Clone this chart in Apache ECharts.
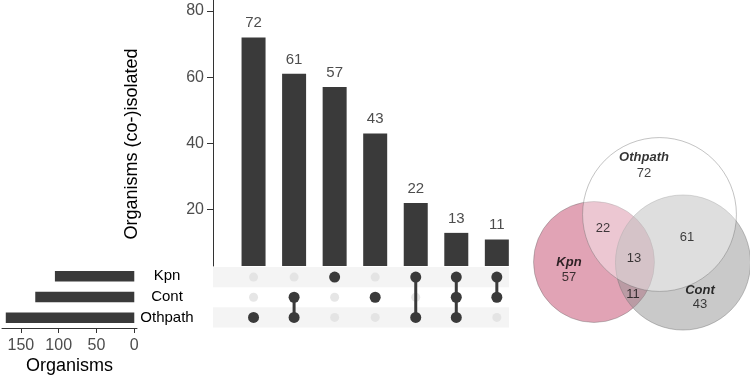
<!DOCTYPE html>
<html>
<head>
<meta charset="utf-8">
<script src="https://cdn.jsdelivr.net/npm/echarts@6/dist/echarts.min.js"></script>
<style>
  html, body { margin: 0; padding: 0; background: #fff; }
  #chart { width: 750px; height: 378px; }
</style>
</head>
<body>
<div id="chart"></div>
<script>
// sets and their sizes (left bars)
const setNames = ['Kpn', 'Cont', 'Othpath'];
const setSizes = [105, 131, 170];

// intersections, in the order of the top bars
const intersectionNames = ['Othpath', 'Cont & Othpath', 'Kpn', 'Cont', 'Kpn & Othpath', 'Kpn & Cont & Othpath', 'Kpn & Cont'];
const intersectionCounts = [72, 61, 57, 43, 22, 13, 11];
// which sets (index into setNames) belong to each intersection
const intersectionMembers = [[2], [1, 2], [0], [1], [0, 2], [0, 1, 2], [0, 1]];

const countTicks = [20, 40, 60, 80];
const sizeTicks = [0, 50, 100, 150];

// venn layout (circle centres per set, label spots per set / intersection)
const vennCenters = [[74, 132], [163, 132.5], [139.5, 84.5]];
const vennNamePos = [[49, 132], [180, 160], [124, 27]];
const vennCountPos = [[124, 43], [167, 107], [49, 147], [180, 174], [83, 98], [114, 128], [113, 164]];

const dark = '#3a3a3a';
const axisGrey = '#4d4d4d';

// matrix dots
const activeDots = [];
const inactiveDots = [];
intersectionMembers.forEach((m, i) => {
  setNames.forEach((s, r) => {
    if (m.includes(r)) activeDots.push([i, r]);
    else inactiveDots.push([i, r]);
  });
});

// connecting lines
const connectorSeries = intersectionMembers
  .map((m, i) => ({ m, i }))
  .filter(d => d.m.length > 1)
  .map(d => ({
    type: 'line',
    xAxisIndex: 1,
    yAxisIndex: 1,
    data: [[d.i, Math.min(...d.m)], [d.i, Math.max(...d.m)]],
    symbol: 'none',
    lineStyle: { color: dark, width: 3 },
    z: 3,
    silent: true
  }));

const vennColors = ['rgba(196,72,108,0.5)', 'rgba(147,147,147,0.5)', 'rgba(255,255,255,0.4)'];

const option = {
  animation: false,
  textStyle: { fontFamily: 'Liberation Sans, Arial, sans-serif' },
  grid: [
    { left: 213, top: 0, width: 296, height: 266 },   // intersection bars
    { left: 213, top: 267, width: 296, height: 60.5 }, // matrix
    { left: 2, top: 266, width: 135, height: 62 },     // set sizes
    { left: 520, top: 130, width: 230, height: 248 }   // venn
  ],
  xAxis: [
    { gridIndex: 0, type: 'value', min: -1, max: 6.3, show: false },
    { gridIndex: 1, type: 'value', min: -1, max: 6.3, show: false },
    {
      gridIndex: 2, type: 'value', min: -3.6, max: 175, inverse: true,
      splitLine: { show: false },
      axisLine: { show: true, onZero: false, lineStyle: { color: '#333', width: 1 } },
      axisTick: { show: true, length: 5, customValues: sizeTicks, lineStyle: { color: '#333' } },
      axisLabel: { customValues: sizeTicks, color: axisGrey, fontSize: 16, margin: 10 },
      name: 'Organisms', nameLocation: 'middle', nameGap: 29,
      nameTextStyle: { color: '#000', fontSize: 18 }
    },
    { gridIndex: 3, type: 'value', min: 0, max: 230, show: false }
  ],
  yAxis: [
    {
      gridIndex: 0, type: 'value', min: 3, max: 83.3,
      splitLine: { show: false },
      axisLine: { show: true, onZero: false, lineStyle: { color: '#333', width: 1 } },
      axisTick: { show: true, length: 6, customValues: countTicks, lineStyle: { color: '#333' } },
      axisLabel: { customValues: countTicks, color: axisGrey, fontSize: 16, margin: 9 },
      name: 'Organisms (co-)isolated', nameLocation: 'middle', nameGap: 72,
      nameTextStyle: { color: '#000', fontSize: 18, padding: [0, 22, 0, 0] }
    },
    { gridIndex: 1, type: 'value', min: -0.5, max: 2.5, inverse: true, show: false },
    {
      gridIndex: 2, type: 'category', data: setNames, inverse: true, position: 'right',
      axisLine: { show: false }, axisTick: { show: false },
      axisLabel: { color: '#000', fontSize: 15, align: 'center', margin: 30 }
    },
    { gridIndex: 3, type: 'value', min: 0, max: 248, inverse: true, show: false }
  ],
  series: [
    {
      type: 'bar',
      xAxisIndex: 0, yAxisIndex: 0,
      data: intersectionCounts.map((v, i) => [i, v]),
      barWidth: 24,
      itemStyle: { color: dark },
      label: {
        show: true, position: 'top', distance: 7,
        color: axisGrey, fontSize: 15,
        formatter: p => p.value[1]
      }
    },
    {
      // row stripes
      type: 'custom',
      xAxisIndex: 1, yAxisIndex: 1,
      data: [0, 2],
      silent: true,
      z: 1,
      renderItem: (params, api) => {
        const r = api.value(0);
        const p0 = api.coord([-1, r - 0.5]);
        const p1 = api.coord([6.3, r + 0.5]);
        return {
          type: 'rect',
          shape: { x: p0[0], y: p0[1], width: p1[0] - p0[0], height: p1[1] - p0[1] },
          style: { fill: '#f4f4f4' }
        };
      }
    },
    {
      type: 'scatter',
      xAxisIndex: 1, yAxisIndex: 1,
      data: inactiveDots,
      symbolSize: 9,
      itemStyle: { color: '#e0e0e0' },
      z: 2,
      silent: true
    },
    ...connectorSeries,
    {
      type: 'scatter',
      xAxisIndex: 1, yAxisIndex: 1,
      data: activeDots,
      symbolSize: 11,
      itemStyle: { color: dark, opacity: 1 },
      z: 4,
      silent: true
    },
    {
      type: 'bar',
      xAxisIndex: 2, yAxisIndex: 2,
      data: setSizes,
      barWidth: 10.5,
      itemStyle: { color: dark }
    },
    {
      // venn circles, area ~ set size
      type: 'scatter',
      xAxisIndex: 3, yAxisIndex: 3,
      data: vennCenters.map((c, i) => ({
        value: c,
        symbolSize: 2 * 5.9 * Math.sqrt(setSizes[i]),
        itemStyle: { color: vennColors[i], opacity: 1, borderColor: 'rgba(110,110,110,0.6)', borderWidth: 0.7 }
      })),
      silent: true
    },
    {
      type: 'scatter',
      xAxisIndex: 3, yAxisIndex: 3,
      data: vennNamePos.map((p, i) => [p[0], p[1], setNames[i]]),
      symbolSize: 0,
      label: {
        show: true, position: 'inside',
        formatter: p => p.value[2],
        color: '#000', fontSize: 13, fontWeight: 'bold', fontStyle: 'italic'
      },
      silent: true, z: 5
    },
    {
      type: 'scatter',
      xAxisIndex: 3, yAxisIndex: 3,
      data: vennCountPos.map((p, i) => [p[0], p[1], intersectionCounts[i]]),
      symbolSize: 0,
      label: {
        show: true, position: 'inside',
        formatter: p => p.value[2],
        color: '#111', fontSize: 13
      },
      silent: true, z: 5
    }
  ]
};

const myChart = echarts.init(document.getElementById('chart'));
myChart.setOption(option);
</script>
</body>
</html>
